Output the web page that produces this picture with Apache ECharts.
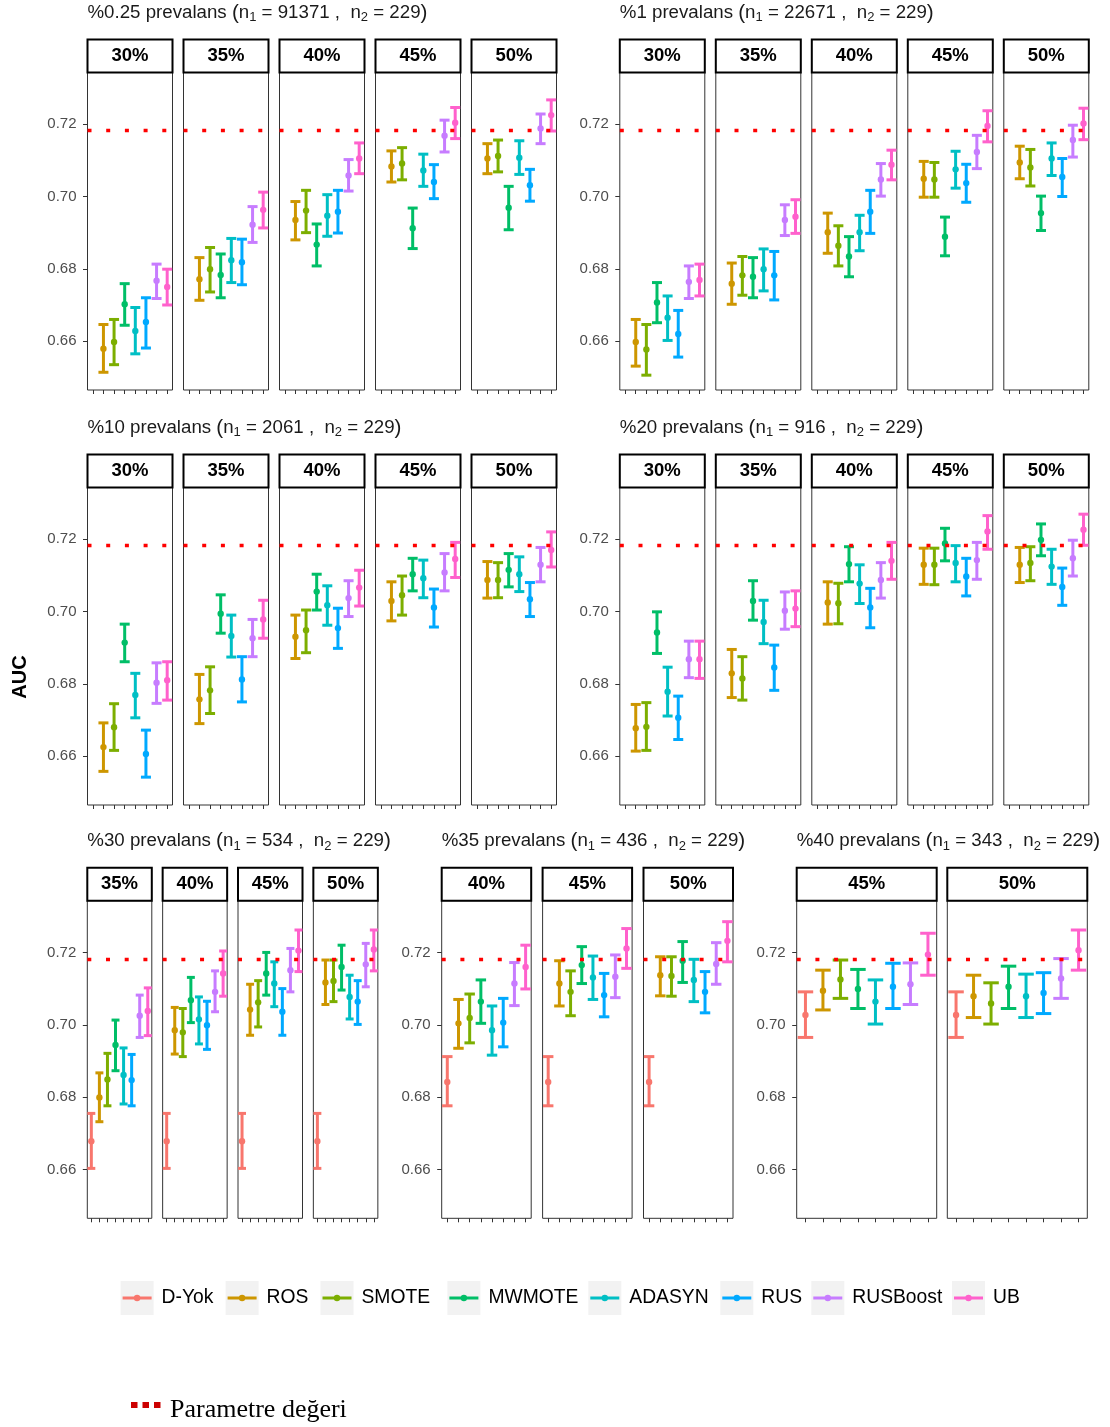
<!DOCTYPE html>
<html><head><meta charset="utf-8">
<script src="https://cdn.jsdelivr.net/npm/echarts@6/dist/echarts.min.js"></script>
<style>html,body{margin:0;padding:0;background:#fff}#c{width:1110px;height:1427px}</style>
</head><body><div id="c"></div>
<script>
// ---------------- DATA ----------------
const methods = ['D-Yok','ROS','SMOTE','MWMOTE','ADASYN','RUS','RUSBoost','UB'];
const colors  = ['#F8766D','#CD9600','#7CAE00','#00BE67','#00BFC4','#00A9FF','#C77CFF','#FF61CC'];
const paramValue = 0.7182;
const yTicks = [0.66, 0.68, 0.70, 0.72];
const yMin = 0.6465, yMax = 0.7343;

const titles_prev = ['%0.25 prevalans','%1 prevalans','%10 prevalans','%20 prevalans','%30 prevalans','%35 prevalans','%40 prevalans'];
const n1_values = ['91371','22671','2061','916','534','436','343'];
const n2_value = '229';

const facets_p025 = ['30%','35%','40%','45%','50%'];
const mean_p025  = [[null,.6579,.6598,.6702,.6628,.6653,.6767,.6750],[null,.6771,.6799,.6783,.6824,.6818,.6922,.6963],[null,.6935,.6961,.6867,.6947,.6958,.7058,.7105],[null,.7083,.7091,.6912,.7072,.7040,.7168,.7204],[null,.7105,.7112,.6969,.7107,.7031,.7188,.7225]];
const lower_p025 = [[null,.6514,.6535,.6644,.6565,.6581,.6718,.6700],[null,.6713,.6736,.6720,.6762,.6756,.6873,.6913],[null,.6880,.6900,.6808,.6890,.6899,.7015,.7063],[null,.7040,.7046,.6856,.7028,.6994,.7123,.7160],[null,.7063,.7068,.6908,.7061,.6987,.7146,.7181]];
const upper_p025 = [[null,.6646,.6660,.6759,.6693,.6720,.6813,.6799],[null,.6831,.6859,.6841,.6884,.6882,.6972,.7012],[null,.6986,.7017,.6924,.7005,.7017,.7102,.7148],[null,.7126,.7135,.6968,.7117,.7088,.7211,.7246],[null,.7146,.7156,.7028,.7154,.7075,.7228,.7267]];

const facets_p1 = ['30%','35%','40%','45%','50%'];
const mean_p1  = [[null,.6598,.6577,.6707,.6665,.6620,.6764,.6769],[null,.6759,.6782,.6778,.6799,.6782,.6935,.6944],[null,.6901,.6864,.6834,.6901,.6958,.7047,.7088],[null,.7049,.7047,.6889,.7075,.7037,.7123,.7195],[null,.7094,.7080,.6954,.7105,.7054,.7156,.7202]];
const lower_p1 = [[null,.6531,.6506,.6651,.6602,.6556,.6718,.6725],[null,.6702,.6727,.6720,.6739,.6714,.6892,.6898],[null,.6843,.6808,.6778,.6850,.6898,.7001,.7046],[null,.6998,.6998,.6836,.7023,.6984,.7077,.7151],[null,.7049,.7029,.6906,.7058,.7000,.7109,.7157]];
const upper_p1 = [[null,.6660,.6646,.6762,.6725,.6685,.6808,.6813],[null,.6816,.6834,.6831,.6855,.6848,.6977,.6991],[null,.6954,.6919,.6889,.6948,.7017,.7091,.7128],[null,.7097,.7094,.6943,.7125,.7089,.7169,.7237],[null,.7139,.7130,.7001,.7148,.7105,.7197,.7244]];

const facets_p10 = ['30%','35%','40%','45%','50%'];
const mean_p10  = [[null,.6625,.6680,.6914,.6769,.6606,.6803,.6810],[null,.6757,.6782,.6994,.6932,.6812,.6926,.6978],[null,.6930,.6948,.7055,.7017,.6954,.7037,.7066],[null,.7029,.7045,.7103,.7092,.7011,.7108,.7145],[null,.7087,.7087,.7115,.7103,.7034,.7129,.7170]];
const lower_p10 = [[null,.6558,.6616,.6861,.6706,.6542,.6746,.6755],[null,.6690,.6718,.6940,.6874,.6750,.6875,.6926],[null,.6870,.6886,.7004,.6962,.6898,.6986,.7015],[null,.6974,.6990,.7057,.7038,.6957,.7057,.7094],[null,.7037,.7038,.7068,.7055,.6986,.7082,.7123]];
const upper_p10 = [[null,.6692,.6745,.6965,.6829,.6672,.6858,.6861],[null,.6826,.6847,.7046,.6990,.6875,.6978,.7031],[null,.6990,.7004,.7103,.7071,.7009,.7085,.7114],[null,.7082,.7098,.7147,.7142,.7062,.7160,.7191],[null,.7138,.7135,.7160,.7151,.7080,.7177,.7220]];

const facets_p20 = ['30%','35%','40%','45%','50%'];
const mean_p20  = [[null,.6677,.6681,.6942,.6778,.6706,.6868,.6868],[null,.6829,.6815,.7029,.6971,.6845,.7002,.7008],[null,.7025,.7023,.7131,.7077,.7011,.7087,.7140],[null,.7129,.7129,.7188,.7134,.7097,.7142,.7221],[null,.7129,.7134,.7198,.7124,.7068,.7147,.7226]];
const lower_p20 = [[null,.6614,.6616,.6884,.6711,.6646,.6817,.6815],[null,.6762,.6755,.6976,.6911,.6782,.6951,.6958],[null,.6965,.6966,.7082,.7022,.6955,.7037,.7089],[null,.7075,.7074,.7140,.7082,.7043,.7089,.7172],[null,.7080,.7085,.7154,.7075,.7017,.7098,.7183]];
const upper_p20 = [[null,.6743,.6748,.6999,.6846,.6766,.6918,.6918],[null,.6895,.6875,.7085,.7031,.6907,.7054,.7057],[null,.7082,.7078,.7179,.7129,.7064,.7135,.7191],[null,.7175,.7175,.7230,.7182,.7147,.7191,.7265],[null,.7177,.7179,.7242,.7172,.7120,.7197,.7269]];

const facets_p30 = ['35%','40%','45%','50%'];
const mean_p30  = [[.6678,.6799,.6849,.6944,.6861,.6847,.7025,.7038],[.6678,.6985,.6979,.7068,.7015,.6999,.7091,.7142],[.6678,.7042,.7062,.7142,.7114,.7036,.7151,.7205],[.6678,.7117,.7121,.7160,.7077,.7064,.7167,.7208]];
const lower_p30 = [[.6603,.6732,.6776,.6873,.6781,.6776,.6965,.6970],[.6603,.6919,.6912,.7006,.6947,.6932,.7036,.7079],[.6603,.6971,.6994,.7082,.7050,.6971,.7091,.7147],[.6603,.7056,.7064,.7096,.7016,.7001,.7105,.7149]];
const upper_p30 = [[.6755,.6867,.6921,.7013,.6936,.6918,.7082,.7102],[.6755,.7048,.7045,.7131,.7077,.7065,.7149,.7204],[.6755,.7112,.7122,.7200,.7174,.7100,.7211,.7262],[.6755,.7179,.7179,.7220,.7137,.7122,.7225,.7262]];

const facets_p35 = ['40%','45%','50%'];
const mean_p35  = [[.6842,.7004,.7019,.7064,.6985,.7006,.7114,.7160],[.6842,.7114,.7091,.7165,.7131,.7082,.7133,.7211],[.6842,.7137,.7135,.7177,.7124,.7091,.7168,.7232]];
const lower_p35 = [[.6776,.6935,.6950,.7004,.6916,.6939,.7053,.7099],[.6776,.7052,.7025,.7114,.7070,.7022,.7075,.7156],[.6776,.7080,.7079,.7117,.7064,.7033,.7112,.7174]];
const upper_p35 = [[.6912,.7070,.7085,.7124,.7052,.7073,.7172,.7220],[.6912,.7177,.7149,.7216,.7190,.7142,.7193,.7266],[.6912,.7188,.7188,.7230,.7181,.7147,.7227,.7285]];

const facets_p40 = ['45%','50%'];
const mean_p40  = [[.7027,.7094,.7125,.7099,.7064,.7105,.7112,.7194],[.7027,.7079,.7059,.7105,.7079,.7088,.7128,.7206]];
const lower_p40 = [[.6965,.7041,.7073,.7045,.7002,.7045,.7056,.7137],[.6965,.7020,.7002,.7045,.7020,.7031,.7073,.7151]];
const upper_p40 = [[.7091,.7151,.7179,.7153,.7124,.7170,.7171,.7253],[.7091,.7137,.7116,.7162,.7140,.7144,.7183,.7262]];

// ---------------- LAYOUT ----------------
const FONT = 'Liberation Sans, Arial, Helvetica, sans-serif';
const rowTop = [72.4, 487.4, 900.7];
const panelH = 317.6;
const stripH = 33;
const groups = [
  {facets: facets_p025, mean: mean_p025, lower: lower_p025, upper: upper_p025, x0: 87.5,  w: 85,   step: 96,    row: 0},
  {facets: facets_p1,   mean: mean_p1,   lower: lower_p1,   upper: upper_p1,   x0: 619.8, w: 85,   step: 96,    row: 0},
  {facets: facets_p10,  mean: mean_p10,  lower: lower_p10,  upper: upper_p10,  x0: 87.5,  w: 85,   step: 96,    row: 1},
  {facets: facets_p20,  mean: mean_p20,  lower: lower_p20,  upper: upper_p20,  x0: 619.8, w: 85,   step: 96,    row: 1},
  {facets: facets_p30,  mean: mean_p30,  lower: lower_p30,  upper: upper_p30,  x0: 87.3,  w: 64.5, step: 75.35, row: 2},
  {facets: facets_p35,  mean: mean_p35,  lower: lower_p35,  upper: upper_p35,  x0: 441.7, w: 89.5, step: 100.9, row: 2},
  {facets: facets_p40,  mean: mean_p40,  lower: lower_p40,  upper: upper_p40,  x0: 796.7, w: 140,  step: 150.6, row: 2}
];

function renderErrorBar(params, api) {
  const x = api.value(0);
  const pm = api.coord([x, api.value(1)]);
  const pl = api.coord([x, api.value(2)]);
  const ph = api.coord([x, api.value(3)]);
  const band = api.size([1, 0])[0];
  const half = (0.8 * band + 1.5) / 2;
  const c = api.visual('color');
  const st = {stroke: c, lineWidth: 3};
  return {type: 'group', children: [
    {type: 'line', shape: {x1: pm[0], y1: ph[1], x2: pm[0], y2: pl[1]}, style: st},
    {type: 'line', shape: {x1: pm[0] - half, y1: ph[1], x2: pm[0] + half, y2: ph[1]}, style: st},
    {type: 'line', shape: {x1: pm[0] - half, y1: pl[1], x2: pm[0] + half, y2: pl[1]}, style: st},
    {type: 'circle', shape: {cx: pm[0], cy: pm[1], r: 3.2}, style: {fill: c}}
  ]};
}

const grids = [], xAxes = [], yAxes = [], series = [], graphics = [], titleOpts = [];
const TFS = 18.7;

groups.forEach((g, gi) => {
  const top = rowTop[g.row];
  titleOpts.push({
    left: g.x0, top: top - 71, padding: 0,
    text: titles_prev[gi] + ' {p|(}{t|n}{s|1}{t| = ' + n1_values[gi] + ' ,  }{t|n}{s|2}{t| = ' + n2_value + '}{p|)}',
    textStyle: {fontFamily: FONT, fontSize: TFS, fontWeight: 'normal', color: '#1a1a1a',
      rich: {t: {fontFamily: FONT, fontSize: TFS, color: '#1a1a1a'},
             p: {fontFamily: FONT, fontSize: TFS + 2, color: '#1a1a1a'},
             s: {fontFamily: FONT, fontSize: 13, color: '#1a1a1a', padding: [10, 0, 0, 0]}}}
  });
  g.facets.forEach((fl, fi) => {
    const idx = grids.length;
    const left = g.x0 + fi * g.step;
    grids.push({left: left, top: top, width: g.w, height: panelH, show: true,
      borderColor: '#333333', borderWidth: 1, backgroundColor: '#ffffff', containLabel: false});
    xAxes.push({type: 'category', gridIndex: idx, data: methods, boundaryGap: true, position: 'bottom',
      axisLine: {show: false},
      axisTick: {show: true, alignWithLabel: true, interval: 0, length: 4, lineStyle: {color: '#333333', width: 1}},
      axisLabel: {show: false}, splitLine: {show: false}});
    yAxes.push({type: 'value', gridIndex: idx, min: yMin, max: yMax,
      axisLine: {show: false},
      axisTick: {show: fi === 0, length: 4.5, customValues: yTicks, lineStyle: {color: '#333333', width: 1}},
      axisLabel: {show: fi === 0, customValues: yTicks, formatter: v => v.toFixed(2),
        color: '#4D4D4D', fontSize: 15, fontFamily: FONT, margin: 11},
      splitLine: {show: false}});
    methods.forEach((m, mi) => {
      const mv = g.mean[fi][mi];
      if (mv == null) return;
      series.push({type: 'custom', name: m, xAxisIndex: idx, yAxisIndex: idx, silent: true, z: 3,
        itemStyle: {color: colors[mi]}, renderItem: renderErrorBar, encode: {x: 0, y: 1},
        data: [[mi, mv, g.lower[fi][mi], g.upper[fi][mi]]]});
    });
    series.push({type: 'line', name: 'Parametre değeri', xAxisIndex: idx, yAxisIndex: idx, data: [], silent: true, z: 10,
      markLine: {silent: true, symbol: ['none', 'none'], label: {show: false}, animation: false, precision: 6,
        lineStyle: {color: '#FF0000', width: 3.3, type: [4, 14.7]},
        emphasis: {disabled: true},
        data: [{yAxis: paramValue}]}});
    // strip
    graphics.push({type: 'rect', z: 100, shape: {x: left, y: top - stripH, width: g.w, height: stripH},
      style: {fill: '#ffffff', stroke: '#000000', lineWidth: 2}});
    graphics.push({type: 'text', z: 101, x: left + g.w / 2, y: top - stripH / 2,
      style: {text: fl, font: 'bold 18.5px ' + FONT, fill: '#000000',
        align: 'center', verticalAlign: 'middle', textAlign: 'center', textVerticalAlign: 'middle'}});
  });
});

// y axis title
graphics.push({type: 'text', z: 100, x: 20, y: 677, rotation: Math.PI / 2,
  style: {text: 'AUC', font: 'bold 20px ' + FONT, fill: '#000',
    align: 'center', verticalAlign: 'middle', textAlign: 'center', textVerticalAlign: 'middle'}});

// legend (method keys)
const legendKeyX = [120.6, 225.6, 320.5, 447.4, 588.3, 720.3, 811.3, 952];
methods.forEach((m, mi) => {
  const kx = legendKeyX[mi];
  graphics.push({type: 'rect', z: 100, shape: {x: kx, y: 1281, width: 33, height: 34}, style: {fill: '#F2F2F2'}});
  graphics.push({type: 'line', z: 101, shape: {x1: kx + 2, y1: 1298, x2: kx + 31, y2: 1298}, style: {stroke: colors[mi], lineWidth: 3}});
  graphics.push({type: 'circle', z: 102, shape: {cx: kx + 16.5, cy: 1298, r: 3.2}, style: {fill: colors[mi]}});
  graphics.push({type: 'text', z: 101, x: kx + 41, y: 1298,
    style: {text: m, font: '19.3px ' + FONT, fill: '#000',
      align: 'left', verticalAlign: 'middle', textAlign: 'left', textVerticalAlign: 'middle'}});
});

// parameter legend
graphics.push({type: 'line', z: 100, shape: {x1: 131, y1: 1405, x2: 161, y2: 1405},
  style: {stroke: '#CC0000', lineWidth: 6, lineDash: [6.5, 5]}});
graphics.push({type: 'text', z: 100, x: 170, y: 1410,
  style: {text: 'Parametre değeri', font: '26px Liberation Serif, Times New Roman, serif', fill: '#000',
    align: 'left', verticalAlign: 'middle', textAlign: 'left', textVerticalAlign: 'middle'}});

const chart = echarts.init(document.getElementById('c'), null, {renderer: 'canvas'});
chart.setOption({
  animation: false,
  backgroundColor: '#ffffff',
  title: titleOpts,
  grid: grids,
  xAxis: xAxes,
  yAxis: yAxes,
  series: series,
  graphic: {elements: graphics}
});
</script></body></html>
